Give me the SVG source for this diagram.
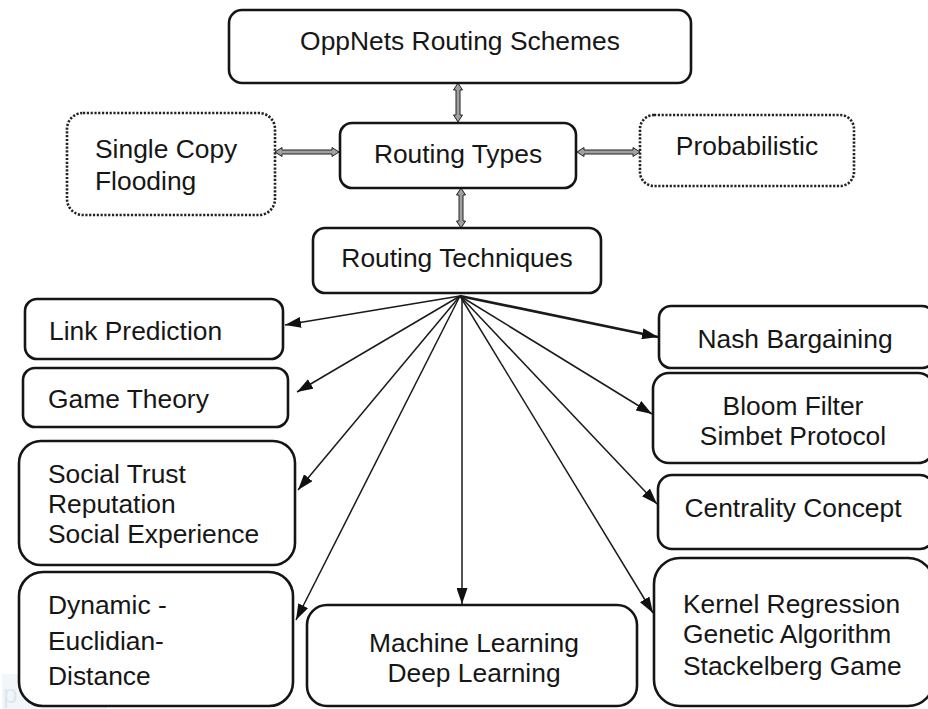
<svg xmlns="http://www.w3.org/2000/svg" width="928" height="709" viewBox="0 0 928 709">
  <style>
    .box { fill: #ffffff; stroke: #151515; stroke-width: 2.6; }
    .dot { fill: #ffffff; stroke: #222222; stroke-width: 2.6; stroke-dasharray: 2.2 1.6; }
    .t { font-family: "Liberation Sans", Arial, sans-serif; font-size: 26.4px; fill: #161616; }
    .c { text-anchor: middle; }
    .link { stroke: #1a1a1a; stroke-width: 1.5; fill: none; marker-end: url(#tip); }
    .thick { stroke-width: 2.6; }
    .dbl { fill: #a0a0a0; stroke: #222222; stroke-width: 1; }
  </style>
  <defs>
    <marker id="tip" viewBox="0 0 16 11" refX="16" refY="5.5" markerWidth="16" markerHeight="11" markerUnits="userSpaceOnUse" orient="auto">
      <path d="M0,0 L16,5.5 L0,11 z" fill="#111111"/>
    </marker>
  </defs>

  <rect width="928" height="709" fill="#ffffff"/>

  <!-- faint corner badge -->
  <g id="badge">
    <rect x="2" y="674" width="105" height="35" fill="#f1f6fb"/>
    <text x="3" y="703" font-family="Liberation Sans, sans-serif" font-size="26" fill="#dde6ee">p</text>
  </g>

  <!-- connectors -->
  <g id="connectors">
    <!-- double-headed block arrows -->
    <polygon class="dbl" points="458,83 462.5,90 460,90 460,115 462.5,115 458,122 453.5,115 456,115 456,90 453.5,90"/>
    <polygon class="dbl" points="461,188 465.5,195 463,195 463,221 465.5,221 461,228 456.5,221 459,221 459,195 456.5,195"/>
    <polygon class="dbl" points="275,152 282,147.5 282,150 332,150 332,147.5 339,152 332,156.5 332,154 282,154 282,156.5"/>
    <polygon class="dbl" points="577,152 584,147.5 584,150 633,150 633,147.5 640,152 633,156.5 633,154 584,154 584,156.5"/>

    <!-- fan-out from Routing Techniques -->
    <path class="link" d="M460,296 L285,325"/>
    <path class="link" d="M460,296 L297,392"/>
    <path class="link" d="M460,296 L298,490"/>
    <path class="link" d="M460,296 L296,620"/>
    <path class="link" d="M462,296 L462,604"/>
    <path class="link thick" d="M460,296 L658,337"/>
    <path class="link" d="M460,296 L652,414"/>
    <path class="link" d="M460,296 L657,504"/>
    <path class="link" d="M460,296 L653,613"/>
  </g>

  <g id="oppnets">
    <rect class="box" x="229" y="10" width="462" height="73" rx="13"/>
    <text class="t c" x="460" y="50">OppNets Routing Schemes</text>
  </g>

  <g id="single-copy">
    <rect class="dot" x="67" y="113" width="208" height="102" rx="16"/>
    <text class="t" x="95" y="158">Single Copy</text>
    <text class="t" x="95" y="190">Flooding</text>
  </g>

  <g id="routing-types">
    <rect class="box" x="340" y="123" width="236" height="65" rx="12"/>
    <text class="t c" x="458" y="163">Routing Types</text>
  </g>

  <g id="probabilistic">
    <rect class="dot" x="640" y="115" width="214" height="71" rx="14"/>
    <text class="t c" x="747" y="155">Probabilistic</text>
  </g>

  <g id="routing-techniques">
    <rect class="box" x="313" y="228" width="288" height="65" rx="12"/>
    <text class="t c" x="457" y="267">Routing Techniques</text>
  </g>

  <g id="link-prediction">
    <rect class="box" x="25" y="299" width="258" height="60" rx="12"/>
    <text class="t" x="49" y="340">Link Prediction</text>
  </g>

  <g id="game-theory">
    <rect class="box" x="23" y="368" width="265" height="59" rx="12"/>
    <text class="t" x="48" y="408">Game Theory</text>
  </g>

  <g id="social">
    <rect class="box" x="19" y="441" width="276" height="124" rx="22"/>
    <text class="t" x="48" y="483">Social Trust</text>
    <text class="t" x="48" y="513">Reputation</text>
    <text class="t" x="48" y="543">Social Experience</text>
  </g>

  <g id="dynamic-distance">
    <rect class="box" x="19" y="572" width="274" height="134" rx="24"/>
    <text class="t" x="48" y="614">Dynamic -</text>
    <text class="t" x="48" y="650">Euclidian-</text>
    <text class="t" x="48" y="685">Distance</text>
  </g>

  <g id="machine-learning">
    <rect class="box" x="307" y="605" width="330" height="101" rx="20"/>
    <text class="t c" x="474" y="652">Machine Learning</text>
    <text class="t c" x="474" y="682">Deep Learning</text>
  </g>

  <g id="nash">
    <rect class="box" x="659" y="306" width="275" height="62" rx="12"/>
    <text class="t c" x="795" y="348">Nash Bargaining</text>
  </g>

  <g id="bloom">
    <rect class="box" x="653" y="373" width="281" height="90" rx="16"/>
    <text class="t c" x="793" y="415">Bloom Filter</text>
    <text class="t c" x="793" y="445">Simbet Protocol</text>
  </g>

  <g id="centrality">
    <rect class="box" x="658" y="475" width="276" height="74" rx="14"/>
    <text class="t c" x="793" y="517">Centrality Concept</text>
  </g>

  <g id="kernel">
    <rect class="box" x="654" y="558" width="280" height="148" rx="26"/>
    <text class="t" x="683" y="613">Kernel Regression</text>
    <text class="t" x="683" y="643">Genetic Algorithm</text>
    <text class="t" x="683" y="675">Stackelberg Game</text>
  </g>
</svg>
